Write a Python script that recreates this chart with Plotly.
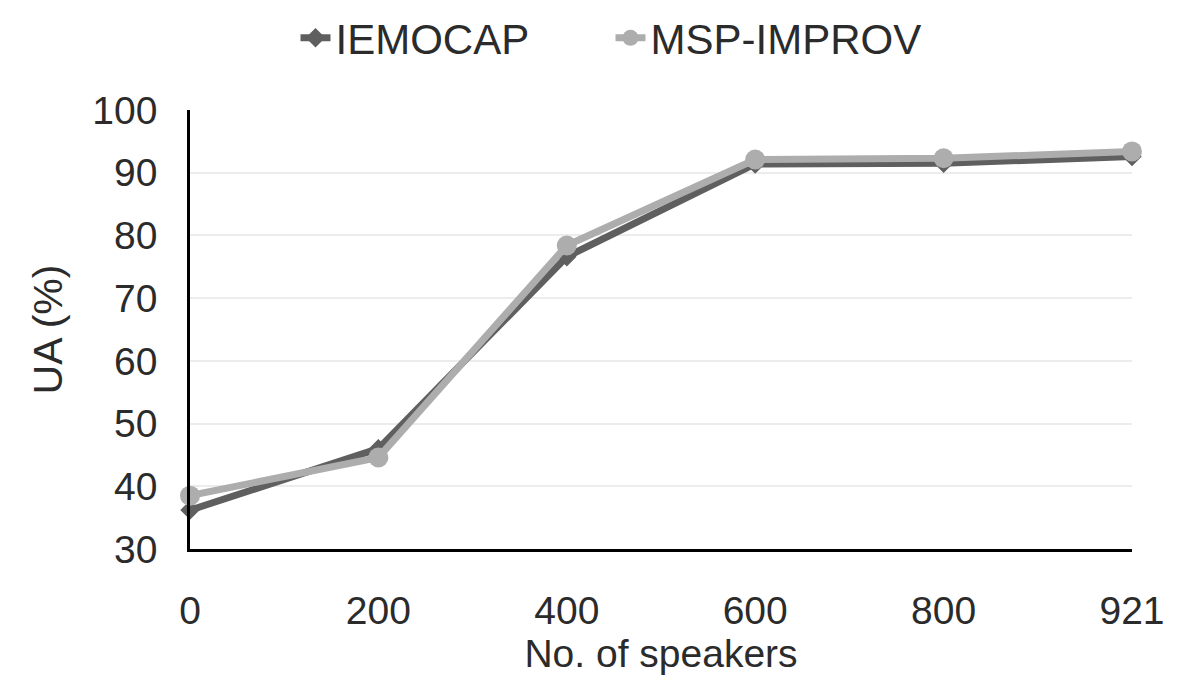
import plotly.graph_objects as go

categories = ["0", "200", "400", "600", "800", "921"]
iemocap = [36.2, 46.0, 76.6, 91.4, 91.5, 92.6]
msp_improv = [38.5, 44.6, 78.4, 92.1, 92.3, 93.4]

x_pos = list(range(len(categories)))
TXT = "#2b2b2b"

fig = go.Figure()
fig.add_trace(go.Scatter(
    x=x_pos, y=iemocap, name="IEMOCAP", mode="lines+markers",
    line=dict(color="#5f5f5f", width=7),
    marker=dict(symbol="diamond", size=15, color="#5f5f5f"),
))
fig.add_trace(go.Scatter(
    x=x_pos, y=msp_improv, name="MSP-IMPROV", mode="lines+markers",
    line=dict(color="#adadad", width=7),
    marker=dict(symbol="circle", size=20, color="#adadad"),
))

fig.update_layout(
    width=1180, height=684,
    margin=dict(l=182, r=56, t=102, b=143, autoexpand=False),
    paper_bgcolor="white", plot_bgcolor="white",
    font=dict(family="Liberation Sans, Arial, sans-serif", size=39, color=TXT),
    showlegend=True,
    legend=dict(orientation="h", x=0.112, xanchor="left", y=1.164, yanchor="middle",
                font=dict(size=42, color=TXT), traceorder="normal",
                entrywidth=270, entrywidthmode="pixels"),
    xaxis=dict(
        tickmode="array", tickvals=x_pos, ticktext=categories,
        range=[0, len(categories) - 1], showgrid=False, zeroline=False,
        showline=True, linecolor="black", linewidth=2.5,
        ticks="", ticklabelstandoff=25, tickfont=dict(size=39, color=TXT),
        title=dict(text="No. of speakers", font=dict(size=39, color=TXT), standoff=10),
    ),
    yaxis=dict(
        range=[30, 100], dtick=10, showgrid=True, gridcolor="#ececec", gridwidth=2,
        zeroline=False, showline=True, linecolor="black", linewidth=2.5,
        ticks="", ticklabelstandoff=22, tickfont=dict(size=39, color=TXT),
        title=dict(text="UA (%)", font=dict(size=41, color=TXT), standoff=18),
    ),
)
fig.update_traces(cliponaxis=False)

fig.write_html("out.html")
